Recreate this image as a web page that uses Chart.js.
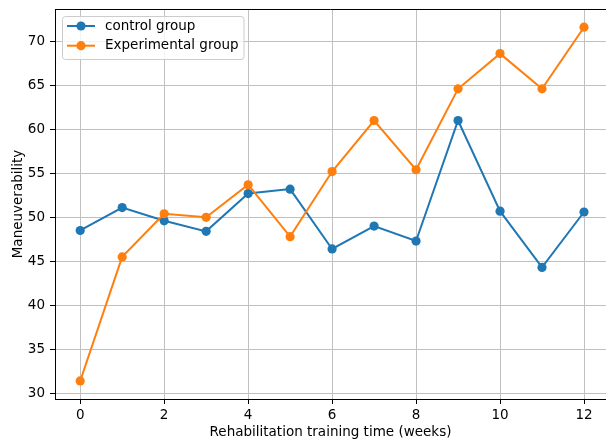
<!DOCTYPE html>
<html>
<head>
<meta charset="utf-8">
<title>Maneuverability</title>
<script src="https://cdn.jsdelivr.net/npm/chart.js@4.4.1/dist/chart.umd.min.js"></script>
<style>
  html, body { margin: 0; padding: 0; background: #fff; overflow: hidden; }
  #wrap { width: 606px; height: 441px; }
</style>
</head>
<body>
<div id="wrap"><canvas id="chart" width="606" height="441"></canvas></div>
<script>
// data
const weeks = [0, 1, 2, 3, 4, 5, 6, 7, 8, 9, 10, 11, 12];
const controlGroup = [48.5, 51.1, 49.6, 48.4, 52.7, 53.2, 46.4, 49.0, 47.3, 61.0, 50.7, 44.3, 50.6];
const experimentalGroup = [31.4, 45.5, 50.4, 50.0, 53.7, 47.8, 55.2, 61.0, 55.4, 64.6, 68.6, 64.6, 71.6];
const xTicks = [0, 2, 4, 6, 8, 10, 12];
const yTicks = [30, 35, 40, 45, 50, 55, 60, 65, 70];

(function () {
  const FONT = 'DejaVu Sans';
  const FONT_SIZE = 13.5;
  const BLUE = '#1f77b4';
  const ORANGE = '#ff7f0e';
  const GRID = '#c0c0c0';

  function toPoints(values) {
    return weeks.map((w, i) => ({ x: w, y: values[i] }));
  }

  // spine along the top of the axes, matplotlib style (right spine is cut off in the original)
  const topSpine = {
    id: 'topSpine',
    afterDraw(chart) {
      const { ctx, chartArea } = chart;
      ctx.save();
      ctx.strokeStyle = '#000';
      ctx.lineWidth = 1;
      ctx.beginPath();
      ctx.moveTo(chartArea.left, chartArea.top + 0.5);
      ctx.lineTo(chart.width, chartArea.top + 0.5);
      ctx.stroke();
      ctx.restore();
    },
  };

  // legend inside the plot, upper left
  const innerLegend = {
    id: 'innerLegend',
    afterDraw(chart) {
      const { ctx } = chart;
      const sets = chart.data.datasets;
      const x0 = 62, y0 = 16, rowGap = 19.7, textX = 105;
      ctx.save();
      ctx.font = FONT_SIZE + 'px "' + FONT + '"';
      let maxW = 0;
      sets.forEach((ds) => { maxW = Math.max(maxW, ctx.measureText(ds.label).width); });
      const w = textX - x0 + maxW + 5;
      const h = 43;
      ctx.beginPath();
      ctx.roundRect(x0 + 0.5, y0 + 0.5, w, h, 3);
      ctx.fillStyle = 'rgba(255,255,255,0.8)';
      ctx.fill();
      ctx.strokeStyle = '#cccccc';
      ctx.lineWidth = 1;
      ctx.stroke();
      sets.forEach((ds, i) => {
        const cy = y0 + 10 + i * rowGap;
        ctx.strokeStyle = ds.borderColor;
        ctx.lineWidth = 2;
        ctx.beginPath();
        ctx.moveTo(67, cy);
        ctx.lineTo(95, cy);
        ctx.stroke();
        ctx.fillStyle = ds.borderColor;
        ctx.beginPath();
        ctx.arc(81, cy, 4.6, 0, Math.PI * 2);
        ctx.fill();
        ctx.fillStyle = '#000';
        ctx.textBaseline = 'middle';
        ctx.textAlign = 'left';
        ctx.fillText(ds.label, textX, cy);
      });
      ctx.restore();
    },
  };

  function lineSet(label, values, color, order) {
    return {
      label,
      data: toPoints(values),
      borderColor: color,
      backgroundColor: color,
      borderWidth: 2,
      pointRadius: 4.6,
      pointHoverRadius: 4.6,
      pointBorderWidth: 0,
      tension: 0,
      order,
    };
  }

  new Chart(document.getElementById('chart'), {
    type: 'line',
    data: {
      datasets: [
        lineSet('control group', controlGroup, BLUE, 1),
        lineSet('Experimental group', experimentalGroup, ORANGE, 0),
      ],
    },
    options: {
      responsive: false,
      animation: false,
      events: [],
      layout: { autoPadding: false, padding: { top: 9, left: 0, right: 0, bottom: 0 } },
      plugins: {
        legend: { display: false },
        tooltip: { enabled: false },
      },
      scales: {
        x: {
          type: 'linear',
          min: -0.6,
          max: 12.524,
          afterBuildTicks: (scale) => { scale.ticks = xTicks.map((v) => ({ value: v })); },
          afterFit: (scale) => {
            scale.height = 42;
            scale.paddingLeft = 0;
            scale.paddingRight = 0;
          },
          grid: { color: GRID, lineWidth: 1, tickColor: '#000', tickLength: 5, tickWidth: 1 },
          border: { display: true, color: '#000', width: 1 },
          ticks: {
            color: '#000',
            font: { family: FONT, size: FONT_SIZE },
            padding: 3,
            maxRotation: 0,
          },
          title: {
            display: true,
            text: 'Rehabilitation training time (weeks)',
            color: '#000',
            font: { family: FONT, size: FONT_SIZE },
            padding: { top: 0, bottom: 0 },
          },
        },
        y: {
          min: 29.35,
          max: 73.67,
          afterBuildTicks: (scale) => { scale.ticks = yTicks.map((v) => ({ value: v })); },
          afterFit: (scale) => {
            scale.width = 55;
            scale.paddingTop = 0;
            scale.paddingBottom = 0;
          },
          grid: { color: GRID, lineWidth: 1, tickColor: '#000', tickLength: 5, tickWidth: 1 },
          border: { display: true, color: '#000', width: 1 },
          ticks: {
            color: '#000',
            font: { family: FONT, size: FONT_SIZE },
            padding: 5,
          },
          title: {
            display: true,
            text: 'Maneuverability',
            color: '#000',
            font: { family: FONT, size: FONT_SIZE },
            padding: { top: 10, bottom: 0 },
          },
        },
      },
    },
    plugins: [topSpine, innerLegend],
  });
})();
</script>
</body>
</html>
